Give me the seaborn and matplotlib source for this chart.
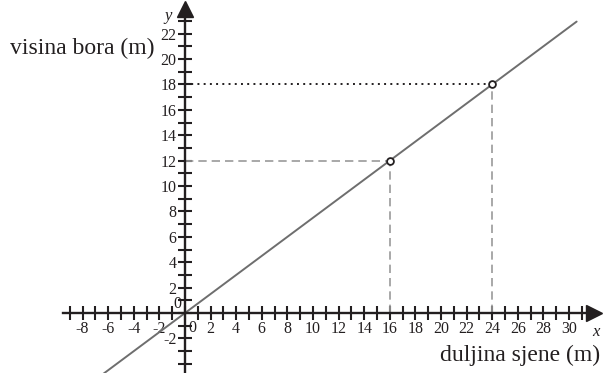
import numpy as np
import pandas as pd
import seaborn as sns
import matplotlib.pyplot as plt

# podaci: pravac kroz ishodiste (visina = 0.75 * sjena)
pravac_x = [-6.4, 0, 16, 24, 30.6]
pravac_y = [-4.8, 0, 12, 18, 22.95]

# istaknute tocke
tocke_x = [16, 24]
tocke_y = [12, 18]

# oznake na osima
x_oznake = [-8, -6, -4, -2, 2, 4, 6, 8, 10, 12, 14, 16, 18, 20, 22, 24, 26, 28, 30]
y_oznake = [-2, 2, 4, 6, 8, 10, 12, 14, 16, 18, 20, 22]

sns.set_theme(style='white')
plt.rcParams['font.family'] = ['Liberation Serif', 'DejaVu Serif']
plt.rcParams['axes.unicode_minus'] = False

fig = plt.figure(figsize=(6.03, 3.73), dpi=100)
ax = fig.add_axes([0, 0, 1, 1])
ax.set_xlim(-14.45, 32.66)
ax.set_ylim(-4.72, 24.65)

crna = '#231f20'
siva = '#6e6e6e'

# pomocne linije
ax.plot([0, 16], [12, 12], ls=(0, (5, 3)), color='#9a9a9a', lw=1.2)
ax.plot([16, 16], [0, 12], ls=(0, (5, 3)), color='#9a9a9a', lw=1.2)
ax.plot([24, 24], [0, 18], ls=(0, (5, 3)), color='#9a9a9a', lw=1.2)
ax.plot([0, 24], [18, 18], ls=(0, (1, 2.2)), color=crna, lw=1.4)

# pravac
df = pd.DataFrame({'sjena': pravac_x, 'visina': pravac_y})
sns.lineplot(data=df, x='sjena', y='visina', ax=ax, color=siva, lw=1.4, zorder=3)

# tocke
dt = pd.DataFrame({'sjena': tocke_x, 'visina': tocke_y})
sns.scatterplot(data=dt, x='sjena', y='visina', ax=ax, s=24, color='white',
                edgecolor=crna, linewidth=1.3, zorder=5)

# osi
for s in ['top', 'right']:
    ax.spines[s].set_visible(False)
ax.spines['left'].set_position(('data', 0))
ax.spines['bottom'].set_position(('data', 0))
ax.spines['left'].set_bounds(-4.72, 23.5)
ax.spines['bottom'].set_bounds(-9.5, 31.5)
for s in ['left', 'bottom']:
    ax.spines[s].set_color(crna)
    ax.spines[s].set_linewidth(1.7)
    ax.spines[s].set_zorder(4)

ax.plot(31.95, 0, marker='>', ms=11, color=crna, clip_on=False, zorder=6)
ax.plot(0, 23.95, marker='^', ms=11, color=crna, clip_on=False, zorder=6)

ax.set_xticks(x_oznake)
ax.set_xticks(np.arange(-9, 32), minor=True)
ax.set_yticks(y_oznake)
ax.set_yticks(np.arange(-4, 24), minor=True)
ax.tick_params(which='both', direction='inout', length=10, width=1.5, color=crna,
               labelsize=11.5, labelcolor=crna, pad=1)
ax.tick_params(axis='both', which='both', bottom=True, left=True)
ax.set_xlabel('')
ax.set_ylabel('')

ax.text(0.3, -0.55, '0', ha='left', va='top', fontsize=11.5, color=crna)
ax.text(-0.3, 0.05, '0', ha='right', va='bottom', fontsize=11.5, color=crna)
ax.text(-1.0, 23.4, 'y', ha='right', va='center', fontsize=12, style='italic', color=crna)
ax.text(32.1, -0.9, 'x', ha='center', va='top', fontsize=12, style='italic', color=crna)

ax.text(-13.7, 20.8, 'visina bora (m)', ha='left', va='center', fontsize=17, color=crna)
ax.text(32.45, -3.35, 'duljina sjene (m)', ha='right', va='center', fontsize=17, color=crna)

plt.savefig('out.png', dpi=100)
